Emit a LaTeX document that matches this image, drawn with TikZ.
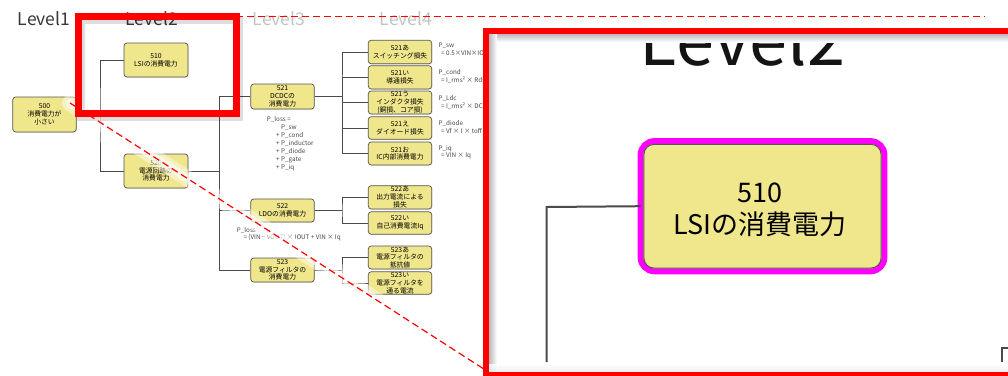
\documentclass[tikz,border=0pt]{standalone}
\usepackage{fontspec}
\setmainfont{Noto Sans CJK JP}
\usetikzlibrary{shadows}
\definecolor{khaki}{RGB}{240,230,140}
\definecolor{edgegray}{RGB}{85,85,85}
\definecolor{wiregray}{RGB}{75,75,75}
\definecolor{hlmagenta}{RGB}{255,0,255}
\definecolor{hlred}{RGB}{255,0,0}
\definecolor{lvdark}{RGB}{55,55,55}
\definecolor{lvlight}{RGB}{195,195,195}
\begin{document}
\begin{tikzpicture}[x=1pt,y=-1pt,
  box/.style={draw=edgegray, line width=0.7pt, fill=khaki, rounded corners=3pt,
    inner sep=0pt, align=center, minimum width=63.5pt,
    font=\fontsize{6.8}{7.8}\selectfont,
    drop shadow={shadow xshift=0.7pt, shadow yshift=-0.9pt, opacity=0.22}},
  wire/.style={draw=wiregray, line width=0.8pt},
  fml/.style={anchor=base west, inner sep=0pt, font=\fontsize{6.3}{8}\selectfont, text=black!72},
  lvl/.style={anchor=base, inner sep=0pt, font=\fontsize{17.5}{20}\selectfont},
  dashline/.style={draw=hlred, line width=1.2pt, dash pattern=on 7pt off 4pt}
]
\useasboundingbox (0,0) rectangle (1008,375);
\fill[white] (0,0) rectangle (1008,375);

% level headers
\node[lvl, text=lvdark] (lv1) at (44,25) {Level1};
\node[lvl, text=lvdark] (lv2) at (151.5,25) {Level2};
\node[lvl, text=lvlight] (lv3) at (279,25) {Level3};
\node[lvl, text=lvlight] (lv4) at (406,25) {Level4};

% level 1-2
\node[box, minimum height=35pt] (n500) at (44.5,114.5) {500\\消費電力が\\小さい};
\node[box, minimum width=64pt, minimum height=34pt] (n510) at (156,60) {510\\LSIの消費電力};
\node[box, minimum width=64pt, minimum height=34pt] (n520) at (156,171) {520\\電源回路の\\消費電力};

% level 3
\node[box, minimum height=25pt] (n521) at (282.5,96.5) {521\\DCDCの\\消費電力};
\node[box, minimum height=23pt] (n522) at (282.5,210.5) {522\\LDOの消費電力};
\node[box, minimum height=24pt] (n523) at (282.5,270) {523\\電源フィルタの\\消費電力};

% level 4
\node[box, minimum height=23.5pt] (a1) at (400,52) {521あ\\スイッチング損失};
\node[box, minimum height=23.3pt] (a2) at (400,77.3) {521い\\導通損失};
\node[box, minimum height=23pt] (a3) at (400,102.5) {521う\\インダクタ損失\\(銅損、コア損)};
\node[box, minimum height=22.5pt] (a4) at (400,128) {521え\\ダイオード損失};
\node[box, minimum height=23pt] (a5) at (400,153.5) {521お\\IC内部消費電力};
\node[box, minimum height=23.3pt] (b1) at (400,197.3) {522あ\\出力電流による\\損失};
\node[box, minimum height=22.5pt] (b2) at (400,223) {522い\\自己消費電流Iq};
\node[box, minimum height=23pt] (c1) at (400,257.5) {523あ\\電源フィルタの\\抵抗値};
\node[box, minimum height=22.5pt] (c2) at (400,283) {523い\\電源フィルタを\\通る電流};

% connectors
\coordinate (j1) at (100,114.5);
\draw[wire] (n500.east) -- (j1);
\draw[wire] (n510.west) -| (j1) |- (n520.west);
\coordinate (j2) at (219.5,171);
\draw[wire] (n520.east) -- (j2);
\draw[wire] (n521.west) -| (j2) |- (n523.west);
\draw[wire] (j2) |- (n522.west);
\coordinate (j3) at (342,96.5);
\draw[wire] (n521.east) -- (j3);
\draw[wire] (a1.west) -| (j3) |- (a5.west);
\draw[wire] (j3) |- (a2.west);
\draw[wire] (j3) |- (a3.west);
\draw[wire] (j3) |- (a4.west);
\coordinate (j4) at (342,210.5);
\draw[wire] (n522.east) -- (j4);
\draw[wire] (b1.west) -| (j4) |- (b2.west);
\coordinate (j5) at (342,270);
\draw[wire] (n523.east) -- (j5);
\draw[wire] (c1.west) -| (j5) |- (c2.west);

% formulas
\node[fml] (f1) at (266.7,121.6) {P\_loss =};
\node[fml] (f2) at (281,129.6) {P\_sw};
\node[fml] (f3) at (276,137.6) {+ P\_cond};
\node[fml] (f4) at (276,145.6) {+ P\_inductor};
\node[fml] (f5) at (276,153.6) {+ P\_diode};
\node[fml] (f6) at (276,161.6) {+ P\_gate};
\node[fml] (f7) at (276,169.6) {+ P\_iq};

\node[fml] (g1) at (438.5,47.3) {P\_sw};
\node[fml] (g2) at (441,55.3) {= 0.5×VIN×IOUT×(tr+tf)×fsw};
\node[fml] (g3) at (438.5,74.5) {P\_cond};
\node[fml] (g4) at (441,82) {= I\_rms² × Rds(on)};
\node[fml] (g5) at (438.5,100) {P\_Ldc};
\node[fml] (g6) at (441,108) {= I\_rms² × DCR};
\node[fml] (g7) at (438.5,125.5) {P\_diode};
\node[fml] (g8) at (441,133) {= Vf × I × toff × fsw};
\node[fml] (g9) at (438.5,150) {P\_iq};
\node[fml] (g10) at (441,157.5) {= VIN × Iq};

\node[fml] (h1) at (236.7,232) {P\_loss};
\node[fml] (h2) at (243.3,239.5) {= (VIN − VOUT) × IOUT + VIN × Iq};

% glare along the diagonal
\coordinate (dA) at (70,103);
\coordinate (dB) at (487,371);
\draw[white, line width=16pt, opacity=0.45, line cap=round] (dA) -- (dB);
\draw[white, line width=8pt, opacity=0.6, line cap=round] (dA) -- (dB);

% small selection box
\draw[black, opacity=0.13, line width=8pt] (81,19.5) rectangle (239,116.5);
\draw[hlred, line width=7pt] (78.5,16.5) rectangle (236,113.5);

% dashed guide lines
\coordinate (tA) at (236,16.5);
\coordinate (tB) at (985,16.5);
\draw[dashline] (tA) -- (tB);
\draw[dashline] (dA) -- (dB);

% magnified inset
\fill[white] (486,31) rectangle (1040,380);
\begin{scope}
\clip (488.7,33.7) rectangle (1008,372);
\node[anchor=base, inner sep=0pt, font=\fontsize{68.5}{72}\selectfont, text=black!92] (zlv2) at (742.5,65) {Level2};
\coordinate (zj) at (546.7,207);
\coordinate (zb) at (546.7,362);
\coordinate (zc) at (1002,348.3);
\coordinate (zr) at (1012,348.3);
\coordinate (zd) at (1002,362);
\node[draw=hlmagenta, line width=5.8pt, fill=khaki, rounded corners=14pt,
      minimum width=244pt, minimum height=130.4pt, inner sep=0pt, outer sep=0pt] (z510) at (762.5,206.2) {};
\node[align=center, inner sep=0pt, font=\fontsize{27}{32}\selectfont] (z510t) at (759.5,209.5) {510\\LSIの消費電力};
\draw[draw=wiregray, line width=2pt] (z510.west) -- (zj) -- (zb);
\draw[draw=wiregray, line width=2pt] (zr) -- (zc) -- (zd);
\draw[edgegray, line width=1pt, rounded corners=10pt]
  ([shift={(3.4,3.4)}]z510.north west) rectangle ([shift={(-3.4,-3.4)}]z510.south east);
% inner shadow of the lens frame
\shade[top color=black!28, bottom color=white] (488.7,33.7) rectangle (1008,42);
\shade[left color=black!28, right color=white] (488.7,33.7) rectangle (497,372);
\shade[top color=white, bottom color=black!8, opacity=0.8] (488.7,364) rectangle (1008,372);
\end{scope}
\draw[hlred, line width=5.5pt] (486,31) rectangle (1040,374.5);
\end{tikzpicture}
\end{document}
